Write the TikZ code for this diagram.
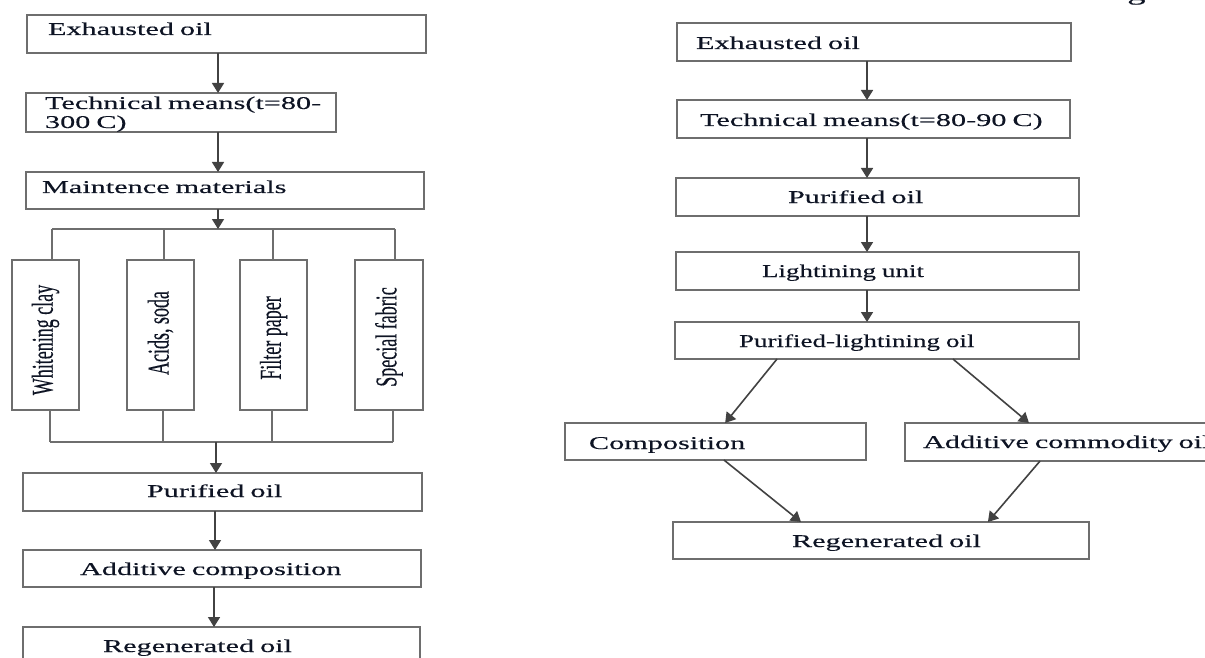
\documentclass[tikz,border=0pt]{standalone}
\usepackage{fontspec}
\setmainfont{Liberation Serif}
\newfontfamily\widefont[FakeStretch=1.68,FakeBold=0.25]{Liberation Serif}
\newfontfamily\narrowfont[FakeStretch=1.5,FakeBold=0.25]{Liberation Serif}
\newfontfamily\vertfont[FakeBold=0.3]{Liberation Serif}
\usepackage{graphicx}
\usetikzlibrary{arrows.meta,calc}
\definecolor{edge}{HTML}{6E6E6E}
\definecolor{arrowc}{HTML}{424242}
\definecolor{ink}{HTML}{0E1424}
\tikzset{
  box/.style={draw=edge, line width=1.7pt, anchor=north west, outer sep=0pt, inner sep=0pt,
    align=left, text depth=0pt, font=\widefont\fontsize{18}{19}\selectfont, text=ink},
  nbox/.style={box, font=\narrowfont\fontsize{18}{19}\selectfont},
  vbox/.style={draw=edge, line width=1.7pt, anchor=north west, outer sep=0pt, inner sep=0pt,
    minimum width=67pt, minimum height=150pt, text=ink},
  conn/.style={draw=edge, line width=1.7pt},
  arr/.style={draw=arrowc, line width=1.6pt, -{Triangle[width=12pt,length=10pt]}},
}
\newcommand\vtext[1]{\scalebox{1.68}[1]{\rotatebox{90}{\vertfont\fontsize{18}{19}\selectfont #1}}}
\begin{document}
\begin{tikzpicture}[x=1pt,y=-1pt]
\useasboundingbox (0,0) rectangle (1205,658);
\fill[white] (0,0) rectangle (1205,658);

% ---------------- left chart ----------------
\node[box, minimum width=399pt, minimum height=38pt, text width=399pt, text height=2pt] (A1) at (27,15) {\hspace*{21pt}Exhausted oil};
\node[box, minimum width=310pt, minimum height=39pt, text width=310pt, text height=12pt, text depth=19pt] (A2) at (26,93) {\hspace*{19pt}Technical means(t=80-\\\hspace*{19pt}300 C)};
\node[box, minimum width=398pt, minimum height=37pt, text width=398pt, text height=5pt] (A3) at (26,172) {\hspace*{16pt}Maintence materials};

\node[vbox] (B1) at (12,260) {\vtext{Whitening clay\hspace*{10pt}}};
\node[vbox] (B2) at (127,260) {\vtext{\hspace*{4pt}Acids, soda}};
\node[vbox] (B3) at (240,260) {\vtext{Filter paper\hspace*{6pt}}};
\node[vbox, minimum width=68pt] (B4) at (355,260) {\vtext{Special fabric\hspace*{4pt}}};

\node[box, minimum width=399pt, minimum height=38pt, text width=399pt, text height=10pt] (A4) at (23,473) {\hspace*{124pt}Purified oil};
\node[box, minimum width=398pt, minimum height=37pt, text width=398pt, text height=13pt] (A5) at (23,550) {\hspace*{57pt}Additive composition};
\node[box, minimum width=397pt, minimum height=38pt, text width=397pt, text height=12pt] (A6) at (23,627) {\hspace*{80pt}Regenerated oil};

\coordinate (cL) at (218,0);
\coordinate (cLc) at (215,0);
\coordinate (cLd) at (214,0);
\coordinate (bt1) at (52,229);
\coordinate (bt2) at (164,229);
\coordinate (bt3) at (273,229);
\coordinate (bt4) at (395,229);
\coordinate (bb1) at (50,442);
\coordinate (bb2) at (163,442);
\coordinate (bb3) at (272,442);
\coordinate (bb4) at (393,442);
\coordinate (bbm) at (216,442);

\draw[conn] (bt1) -- (bt4);
\draw[conn] (bt1) -- (bt1 |- B1.north);
\draw[conn] (bt2) -- (bt2 |- B2.north);
\draw[conn] (bt3) -- (bt3 |- B3.north);
\draw[conn] (bt4) -- (bt4 |- B4.north);
\draw[conn] (bb1 |- B1.south) -- (bb1);
\draw[conn] (bb2 |- B2.south) -- (bb2);
\draw[conn] (bb3 |- B3.south) -- (bb3);
\draw[conn] (bb4 |- B4.south) -- (bb4);
\draw[conn] (bb1) -- (bb4);
\draw[arr] (A1.south -| cL) -- (A2.north -| cL);
\draw[arr] (A2.south -| cL) -- (A3.north -| cL);
\draw[arr] (A3.south -| cL) -- (cL |- bt1);
\draw[arr] (bbm) -- (A4.north -| bbm);
\draw[arr] (A4.south -| cLc) -- (A5.north -| cLc);
\draw[arr] (A5.south -| cLd) -- (A6.north -| cLd);

% ---------------- right chart ----------------
\node[box, minimum width=394pt, minimum height=38pt, text width=394pt, text height=14pt] (R1) at (677,23) {\hspace*{19pt}Exhausted oil};
\node[box, minimum width=393pt, minimum height=38pt, text width=393pt, text height=14pt] (R2) at (677,100) {\hspace*{23pt}Technical means(t=80-90 C)};
\node[box, minimum width=403pt, minimum height=38pt, text width=403pt, text height=12pt] (R3) at (676,178) {\hspace*{112pt}Purified oil};
\node[nbox, minimum width=403pt, minimum height=38pt, text width=403pt, text height=12pt] (R4) at (676,252) {\hspace*{86pt}Lightining unit};
\node[nbox, minimum width=404pt, minimum height=37pt, text width=404pt, text height=13pt] (R5) at (675,322) {\hspace*{64pt}Purified-lightining oil};
\node[box, minimum width=301pt, minimum height=37pt, text width=301pt, text height=15pt] (R6) at (565,423) {\hspace*{24pt}Composition};
\node[box, minimum width=320pt, minimum height=38pt, text width=320pt, text height=12pt] (R7) at (905,423) {\hspace*{18pt}Additive commodity oil};
\node[box, minimum width=416pt, minimum height=37pt, text width=416pt, text height=13pt] (R8) at (673,522) {\hspace*{119pt}Regenerated oil};

\coordinate (cR) at (867,0);
\draw[arr] (R1.south -| cR) -- (R2.north -| cR);
\draw[arr] (R2.south -| cR) -- (R3.north -| cR);
\draw[arr] (R3.south -| cR) -- (R4.north -| cR);
\draw[arr] (R4.south -| cR) -- (R5.north -| cR);
\draw[arr] ($(R5.south west)!0.2525!(R5.south east)$) -- ($(R6.north west)!0.532!(R6.north east)$);
\draw[arr] ($(R5.south west)!0.688!(R5.south east)$) -- ($(R7.north west)!0.3875!(R7.north east)$);
\draw[arr] ($(R6.south west)!0.528!(R6.south east)$) -- ($(R8.north west)!0.3077!(R8.north east)$);
\draw[arr] ($(R7.south west)!0.422!(R7.south east)$) -- ($(R8.north west)!0.757!(R8.north east)$);

% cut-off letter at the top edge
\node[font=\widefont\fontsize{22}{22}\selectfont, anchor=base west, inner sep=0pt, text=ink] (gfrag) at (1127,0) {g};
\end{tikzpicture}
\end{document}
